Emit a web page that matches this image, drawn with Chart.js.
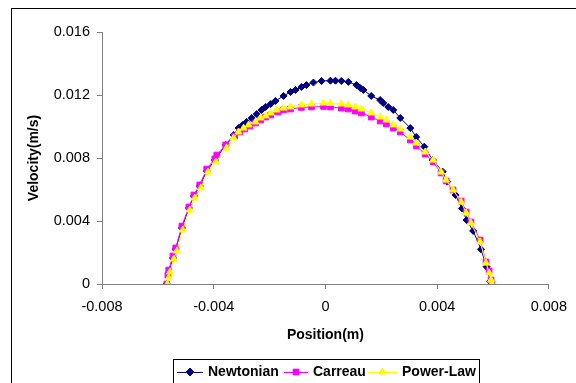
<!DOCTYPE html>
<html>
<head>
<meta charset="utf-8">
<script src="https://cdn.jsdelivr.net/npm/chart.js@4.4.0/dist/chart.umd.min.js"></script>
<style>
  html, body { margin: 0; padding: 0; background: #fff; }
  #wrap { width: 576px; height: 383px; position: relative; }
</style>
</head>
<body>
<div id="wrap"><canvas id="chart" width="576" height="383"></canvas></div>
<script>
// Tick labels
const xTicks = [-0.008, -0.004, 0, 0.004, 0.008];
const yTicks = [0, 0.004, 0.008, 0.012, 0.016];

// Newtonian profile
const newtonX = [-0.00568, -0.00561, -0.00546, -0.00536, -0.00514, -0.00489, -0.00471, -0.0045, -0.00425, -0.00396,
  -0.00357, -0.00329, -0.00311, -0.00296, -0.00282, -0.00264, -0.00246, -0.00229, -0.00214, -0.00196,
  -0.00179, -0.0015, -0.00125, -0.00107, -0.00086, -0.00068, -0.00043, -0.00014, 0.00018, 0.00036,
  0.00057, 0.00082, 0.00111, 0.00125, 0.00136, 0.00164, 0.00196, 0.00207, 0.00225, 0.00243,
  0.00268, 0.00304, 0.00325, 0.00354, 0.00384, 0.0042, 0.00436, 0.00466, 0.00489, 0.00505,
  0.00529, 0.00557, 0.00577, 0.0059];
const newtonY = [0, 0.0007, 0.00165, 0.00222, 0.00356, 0.00483, 0.00559, 0.00622, 0.00717, 0.00787,
  0.00883, 0.00946, 0.0099, 0.0101, 0.01029, 0.01054, 0.01079, 0.01105, 0.01124, 0.01143,
  0.01162, 0.01194, 0.01219, 0.01232, 0.01251, 0.01263, 0.01279, 0.01289, 0.01291, 0.01291,
  0.01289, 0.01283, 0.01263, 0.01244, 0.01232, 0.01194, 0.01168, 0.01149, 0.01124, 0.01105,
  0.01054, 0.0099, 0.00933, 0.00872, 0.00787, 0.00713, 0.0065, 0.00565, 0.0048, 0.00406,
  0.00337, 0.0022, 0.0011, 0.00015];

// Carreau profile
const carreauX = [-0.00568, -0.00564, -0.00561, -0.00546, -0.00536, -0.00514, -0.00489, -0.00471, -0.0045, -0.00425,
  -0.00396, -0.00389, -0.00357, -0.00325, -0.00307, -0.00289, -0.00271, -0.0025, -0.00232, -0.00214,
  -0.00196, -0.00171, -0.0015, -0.00125, -0.00086, -0.0005, -0.00007, 0.00018, 0.00057, 0.00082,
  0.00107, 0.00129, 0.00164, 0.00196, 0.00218, 0.00243, 0.00268, 0.00304, 0.00325, 0.00357,
  0.00386, 0.00414, 0.00432, 0.00457, 0.00486, 0.00504, 0.00521, 0.00554, 0.00575, 0.00586,
  0.00593, 0.00596];
const carreauY = [0, 0.00057, 0.00089, 0.00178, 0.00229, 0.00368, 0.00489, 0.00565, 0.00629, 0.0073,
  0.00794, 0.00819, 0.00883, 0.0094, 0.00965, 0.00984, 0.01003, 0.01022, 0.01041, 0.0106,
  0.01073, 0.01092, 0.01105, 0.01111, 0.01121, 0.01124, 0.01127, 0.01124, 0.01117, 0.01111,
  0.01098, 0.01086, 0.0106, 0.01035, 0.01016, 0.0099, 0.00965, 0.00914, 0.00876, 0.00825,
  0.00775, 0.00705, 0.00654, 0.00597, 0.00527, 0.00457, 0.00394, 0.00279, 0.0014, 0.00083,
  0.00025, 0];

// Power-Law profile
const powerX = [-0.00566, -0.00561, -0.00557, -0.00543, -0.00532, -0.00511, -0.00486, -0.00468, -0.00446, -0.00421,
  -0.00393, -0.00354, -0.00329, -0.00311, -0.00293, -0.00275, -0.0025, -0.00232, -0.00214, -0.00196,
  -0.00175, -0.0015, -0.00125, -0.00086, -0.0005, -0.00007, 0.00018, 0.00057, 0.00082, 0.00107,
  0.00129, 0.00164, 0.00196, 0.00218, 0.00243, 0.00268, 0.00304, 0.00325, 0.00357, 0.00386,
  0.00414, 0.00432, 0.00457, 0.00486, 0.00504, 0.00521, 0.00554, 0.00575, 0.00586, 0.00593,
  0.00596];
const powerY = [0, 0.0004, 0.00076, 0.00159, 0.0021, 0.00343, 0.0047, 0.00546, 0.0061, 0.00711,
  0.00775, 0.00864, 0.00927, 0.00965, 0.0099, 0.0101, 0.01029, 0.01054, 0.01067, 0.01086,
  0.01105, 0.01117, 0.01124, 0.01137, 0.01143, 0.01149, 0.01146, 0.01143, 0.01137, 0.01124,
  0.01111, 0.01086, 0.0106, 0.01041, 0.0101, 0.00984, 0.00933, 0.00895, 0.00838, 0.00787,
  0.00711, 0.0066, 0.00597, 0.00521, 0.00451, 0.00387, 0.00267, 0.00133, 0.0007, 0.00025,
  0];

const seriesNames = ["Newtonian", "Carreau", "Power-Law"];
const seriesColors = ["#000080", "#FF00FF", "#FFFF00"];
const seriesStyles = ["rectRot", "rect", "triangle"];

const FONT = "'Liberation Sans', Arial, sans-serif";

function toPoints(xs, ys) {
  return xs.map((x, i) => ({ x: x, y: ys[i] }));
}

function fmtTick(v) {
  if (Math.abs(v) < 1e-12) return "0";
  return v.toFixed(3);
}

// frame + white background
const framePlugin = {
  id: "frame",
  beforeDraw(chart) {
    const ctx = chart.ctx;
    ctx.save();
    ctx.fillStyle = "#fff";
    ctx.fillRect(0, 0, chart.width, chart.height);
    ctx.strokeStyle = "#000";
    ctx.lineWidth = 1;
    ctx.strokeRect(11.5, 8.5, 700, 500);
    ctx.restore();
  },
};

// Excel style legend with line + marker
const legendPlugin = {
  id: "boxLegend",
  afterDraw(chart) {
    const ctx = chart.ctx;
    ctx.save();
    ctx.fillStyle = "#fff";
    ctx.fillRect(173.5, 359.5, 306, 40);
    ctx.strokeStyle = "#000";
    ctx.lineWidth = 1;
    ctx.strokeRect(173.5, 359.5, 306, 40);
    const items = [
      { x0: 177, x1: 203, tx: 208 },
      { x0: 284, x1: 308, tx: 313 },
      { x0: 368, x1: 397, tx: 402 },
    ];
    const cy = 372;
    ctx.font = "bold 14px " + FONT;
    ctx.textBaseline = "middle";
    items.forEach((it, i) => {
      ctx.strokeStyle = seriesColors[i];
      ctx.beginPath();
      ctx.moveTo(it.x0, cy + 0.5);
      ctx.lineTo(it.x1, cy + 0.5);
      ctx.stroke();
      Chart.helpers.drawPoint(ctx, {
        pointStyle: seriesStyles[i],
        radius: 4,
        borderWidth: 1,
      }, (it.x0 + it.x1) / 2, cy);
      ctx.fillStyle = seriesColors[i];
      ctx.fill();
      ctx.fillStyle = "#000";
      ctx.fillText(seriesNames[i], it.tx, cy);
    });
    ctx.restore();
  },
};

function makeDataset(i, xs, ys, radius) {
  return {
    label: seriesNames[i],
    data: toPoints(xs, ys),
    borderColor: seriesColors[i],
    backgroundColor: seriesColors[i],
    pointBackgroundColor: seriesColors[i],
    pointBorderColor: seriesColors[i],
    pointStyle: seriesStyles[i],
    pointRadius: radius,
    pointBorderWidth: 1,
    borderWidth: 1,
    tension: 0,
    order: 3 - i,
  };
}

new Chart(document.getElementById("chart").getContext("2d"), {
  type: "line",
  data: {
    datasets: [
      makeDataset(0, newtonX, newtonY, 3.5),
      makeDataset(1, carreauX, carreauY, 4),
      makeDataset(2, powerX, powerY, 4),
    ],
  },
  options: {
    responsive: false,
    animation: false,
    layout: { padding: { top: 32, right: 25, bottom: 0, left: 0 } },
    plugins: {
      legend: { display: false },
      tooltip: { enabled: false },
    },
    scales: {
      x: {
        type: "linear",
        min: -0.008,
        max: 0.008,
        afterBuildTicks(scale) {
          scale.ticks = xTicks.map((v) => ({ value: v }));
        },
        afterFit(scale) { scale.height = 99; },
        ticks: {
          callback: fmtTick,
          color: "#000",
          font: { family: FONT, size: 14.5 },
          padding: 9,
          maxRotation: 0,
        },
        grid: { drawOnChartArea: false, drawTicks: true, tickLength: 5, color: "#808080" },
        border: { color: "#808080", width: 1 },
        title: {
          display: true,
          text: "Position(m)",
          color: "#000",
          font: { family: FONT, size: 14, weight: "bold" },
          padding: { top: 0, bottom: 39 },
        },
      },
      y: {
        type: "linear",
        min: 0,
        max: 0.016,
        afterBuildTicks(scale) {
          scale.ticks = yTicks.map((v) => ({ value: v }));
        },
        afterFit(scale) { scale.width = 102; },
        ticks: {
          callback: fmtTick,
          color: "#000",
          font: { family: FONT, size: 14.5 },
          padding: 7,
        },
        grid: { drawOnChartArea: false, drawTicks: true, tickLength: 5, color: "#808080" },
        border: { color: "#808080", width: 1 },
        title: {
          display: true,
          text: "Velocity(m/s)",
          color: "#000",
          font: { family: FONT, size: 14, weight: "bold" },
          padding: { top: 26, bottom: 0 },
        },
      },
    },
  },
  plugins: [framePlugin, legendPlugin],
});
</script>
</body>
</html>
